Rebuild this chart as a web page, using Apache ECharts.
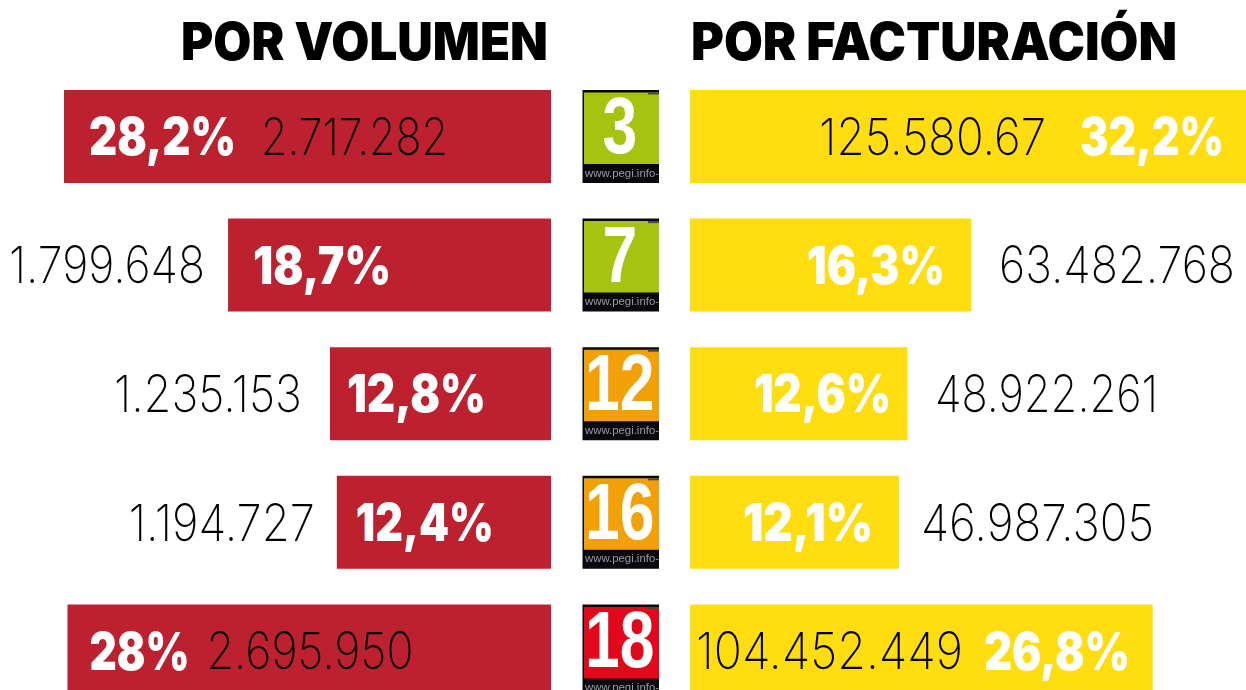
<!DOCTYPE html>
<html><head><meta charset="utf-8">
<style>html,body{margin:0;padding:0;background:#fff}#c{width:1246px;height:690px}</style>
<script src="https://cdn.jsdelivr.net/npm/echarts@6/dist/echarts.min.js"></script>
</head><body><div id="c"></div>
<script>
const ratings = ['3','7','12','16','18'];
const titles = ['POR VOLUMEN','POR FACTURACIÓN'];
const volumenPct = [28.2,18.7,12.8,12.4,28];
const volumenPctText = ['28,2%','18,7%','12,8%','12,4%','28%'];
const volumenText = ['2.717.282','1.799.648','1.235.153','1.194.727','2.695.950'];
const factPct = [32.2,16.3,12.6,12.1,26.8];
const factPctText = ['32,2%','16,3%','12,6%','12,1%','26,8%'];
const factText = ['125.580.67','63.482.768','48.922.261','46.987.305','104.452.449'];
const ratingColors = ['#a6c40f','#a6c40f','#f3a007','#f3a007','#e2071b'];
// layout only: text anchors from each bar's left edge, and the width each text is fitted to
const volPctX = [25,25,17,19,22];
const volNumX = [197,-219,-216,-208,139];
const factPctX = [390,117,64,53,294];
const factNumX = [129,309,245,231,6];
const volPctW = [147,138,139,138,100];
const volNumW = [187,196,188,186,207];
const factPctW = [144,138,137,130,146];
const factNumW = [227,236,223,233,267];
const titleW = [367,486];

const NUM = {fontFamily:'Inter',fontWeight:200,fontSize:51,fill:'#000'};
const PCT = {fontFamily:'Inter',fontWeight:900,fontSize:52,fill:'#fff'};
const TITLE = {fontFamily:'Inter',fontWeight:900,fontSize:52,fill:'#000'};
const PEGI = {fontFamily:'Liberation Sans',fontWeight:700,fontSize:80,fill:'#fff'};
const URL = {fontFamily:'Liberation Sans',fontWeight:400,fontSize:11.5,fill:'#9a9aa5'};
const ctx = document.createElement('canvas').getContext('2d');
function fit(text,style,target){
  ctx.font = style.fontWeight+' '+style.fontSize+'px "'+style.fontFamily+'"';
  return target/ctx.measureText(text).width;
}
const yAxisBase = {type:'category',data:ratings,inverse:true,show:false};
function bars(i,vals,color){
  return {type:'bar',xAxisIndex:i,yAxisIndex:i,barWidth:93,silent:true,z:2,itemStyle:{color:color},data:vals};
}
function texts(i,vals,inverse,xs,labels,style,widths){
  return {type:'custom',xAxisIndex:i,yAxisIndex:i,silent:true,clip:false,z:3,
    encode:{x:0,y:1},
    data:vals.map((v,k)=>[v,k]),
    renderItem:function(p,api){
      const k=api.value(1), c=api.coord([inverse?api.value(0):0,k]);
      return {type:'text',x:c[0]+xs[k],y:c[1]+3,scaleX:fit(labels[k],style,widths[k]),
        style:{text:labels[k],x:0,y:0,align:'left',verticalAlign:'middle',...style}};
    }};
}
const chart = echarts.init(document.getElementById('c'),null,{renderer:'canvas'});
chart.setOption({
  animation:false,
  graphic:[
    {type:'text',x:548,y:44,scaleX:fit(titles[0],TITLE,titleW[0]),style:{text:titles[0],x:0,y:0,align:'right',verticalAlign:'middle',...TITLE}},
    {type:'text',x:691,y:44,scaleX:fit(titles[1],TITLE,titleW[1]),style:{text:titles[1],x:0,y:0,align:'left',verticalAlign:'middle',...TITLE}}
  ],
  grid:[
    {left:64,width:487,top:72.2,height:643,outerBoundsMode:'none'},
    {left:690,width:556,top:72.2,height:643,outerBoundsMode:'none'},
    {left:582.5,width:76.5,top:72.2,height:643,outerBoundsMode:'none'}
  ],
  xAxis:[
    {type:'value',gridIndex:0,min:0,max:28.2,inverse:true,show:false},
    {type:'value',gridIndex:1,min:0,max:32.2,show:false},
    {type:'value',gridIndex:2,min:0,max:1,show:false}
  ],
  yAxis:[{...yAxisBase,gridIndex:0},{...yAxisBase,gridIndex:1},{...yAxisBase,gridIndex:2}],
  series:[
    bars(0,volumenPct,'#bd2130'),
    bars(1,factPct,'#ffdd11'),
    texts(0,volumenPct,true,volPctX,volumenPctText,PCT,volPctW),
    texts(0,volumenPct,true,volNumX,volumenText,NUM,volNumW),
    texts(1,factPct,false,factPctX,factPctText,PCT,factPctW),
    texts(1,factPct,false,factNumX,factText,NUM,factNumW),
    {type:'custom',xAxisIndex:2,yAxisIndex:2,silent:true,clip:false,
     encode:{x:0,y:1},
     data:ratings.map((r,i)=>[0,i]),
     renderItem:function(params,api){
       const i=api.value(1), c=api.coord([0,i]), s=api.size([1,1]);
       const x=c[0], w=s[0], h=93, y=c[1]-h/2, strip=19;
       const two=ratings[i].length>1;
       const u='www.pegi.info-';
       return {type:'group',children:[
         {type:'rect',shape:{x:x,y:y,width:w,height:h},style:{fill:'#08080e'}},
         {type:'rect',shape:{x:x+1.5,y:y+2.5,width:w-1.5,height:h-strip-2.5},style:{fill:ratingColors[i]}},
         {type:'rect',shape:{x:x+w-11,y:y+2.5,width:11,height:2},style:{fill:'#4a4a30'}},
         {type:'text',x:x+w/2-1,y:y+(h-strip)/2+4,scaleX:0.78,
           style:{text:ratings[i],x:0,y:0,align:'center',verticalAlign:'middle',...PEGI,shadowBlur:2,shadowColor:'rgba(255,255,255,0.6)'}},
         {type:'text',x:x+2.5,y:y+h-9.5,scaleX:fit(u,URL,w-2.5),
           style:{text:u,x:0,y:0,align:'left',verticalAlign:'middle',...URL,shadowBlur:1.5,shadowColor:'rgba(154,154,165,0.7)'}}
       ]};
     }}
  ]
});
</script></body></html>
